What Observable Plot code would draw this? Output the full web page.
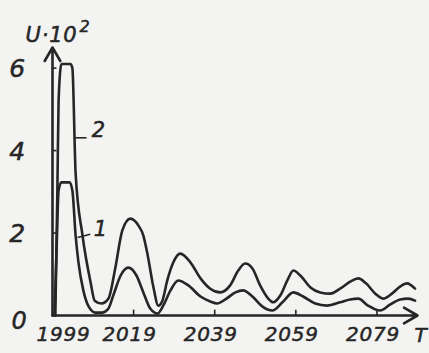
<!DOCTYPE html>
<html>
<head>
<meta charset="utf-8">
<script src="https://cdn.jsdelivr.net/npm/d3@7"></script>
<script src="https://cdn.jsdelivr.net/npm/@observablehq/plot@0.6"></script>
<style>
  html, body { margin: 0; padding: 0; background: #f3f3f1; }
  #chart { width: 429px; height: 353px; }
  #chart svg text { letter-spacing: 0.8px; }
</style>
</head>
<body>
<div id="chart"></div>
<script>
// Curve 2 (upper) : [T, U·10^2]
const curve2 = [
  [1999.7,0],[2000.2,3.0],[2000.5,5.2],[2001.2,6.1],[2003.4,6.1],[2003.9,6.0],[2004.7,3.45],
  [2006.4,1.94],[2008.4,0.8],[2009.4,0.36],[2011.1,0.29],[2012.8,0.41],[2014.5,1.16],
  [2016.2,2.06],[2018.2,2.35],[2020.2,2.18],[2021.4,1.94],[2022.4,1.5],[2023.9,0.68],
  [2025.1,0.24],[2026.1,0.36],[2027.3,0.85],[2028.8,1.29],[2030.5,1.5],[2033.0,1.29],
  [2035.5,0.9],[2037.9,0.65],[2040.4,0.56],[2042.8,0.73],[2044.8,1.09],[2046.5,1.26],
  [2048.3,1.14],[2050.2,0.73],[2052.2,0.41],[2053.4,0.32],[2055.2,0.49],[2056.9,0.85],
  [2058.4,1.09],[2060.1,0.97],[2062.6,0.68],[2065.0,0.56],[2067.5,0.53],[2069.9,0.65],
  [2072.4,0.82],[2074.4,0.9],[2076.3,0.78],[2078.6,0.53],[2080.5,0.41],[2082.7,0.53],
  [2084.7,0.7],[2086.4,0.78],[2088.4,0.65]
];
// Curve 1 (lower)
const curve1 = [
  [1999.5,0],[2000.0,1.58],[2000.5,3.03],[2001.2,3.23],[2003.2,3.23],[2003.9,3.03],
  [2004.7,1.94],[2005.4,1.29],[2006.6,0.61],[2007.9,0.22],[2009.6,0.07],[2011.3,0.07],
  [2012.8,0.17],[2014.0,0.49],[2015.8,0.97],[2017.7,1.16],[2019.7,0.97],[2021.4,0.56],
  [2023.1,0.17],[2024.9,0.05],[2026.3,0.24],[2028.1,0.61],[2030.0,0.85],[2032.5,0.73],
  [2035.5,0.46],[2037.9,0.34],[2039.6,0.29],[2041.9,0.41],[2044.1,0.56],[2046.0,0.61],
  [2048.3,0.46],[2050.7,0.22],[2053.2,0.12],[2055.7,0.32],[2058.4,0.56],[2060.8,0.46],
  [2063.8,0.29],[2066.7,0.24],[2069.9,0.32],[2072.4,0.39],[2074.4,0.41],[2076.8,0.24],
  [2079.8,0.12],[2082.3,0.27],[2084.7,0.39],[2086.7,0.41],[2088.4,0.36]
];
const xTicks = [1999, 2019, 2039, 2059, 2079];
const yTicks = [0, 2, 4, 6];
const xLabel = "T";
const yLabel = "U·10";
const yLabelSup = "2";
// curve labels: name, label position, leader start/end
const curveLabels = [
  {name: "2", t: 2010.4, v: 4.5, t1: 2004.5, t2: 2007.4, v1: 4.31, v2: 4.31},
  {name: "1", t: 2010.9, v: 2.1, t1: 2005.2, t2: 2008.3, v1: 1.89, v2: 1.97}
];

const ink = "#262626";
const font = "DejaVu Sans";
const pts2 = curve2.map(([t, v]) => ({t, v}));
const pts1 = curve1.map(([t, v]) => ({t, v}));
const txt = {fontStyle: "italic", fill: ink, stroke: ink, strokeWidth: 0.5};

const chart = Plot.plot({
  width: 429,
  height: 353,
  marginLeft: 52,
  marginRight: 12,
  marginTop: 47,
  marginBottom: 38,
  x: {domain: [1999, 2089], axis: null},
  y: {domain: [0, 6.5], axis: null},
  style: {background: "#f3f3f1", fontFamily: font, color: ink},
  marks: [
    // axes with arrows
    Plot.arrow([0], {x1: 1999, y1: 0, x2: 1999, y2: 6.5, stroke: ink, strokeWidth: 2.6, headLength: 9, bend: 0}),
    Plot.arrow([0], {x1: 1999, y1: 0, x2: 2089, y2: 0, stroke: ink, strokeWidth: 2.6, headLength: 9, bend: 0}),
    // ticks
    Plot.ruleX(xTicks.slice(1), {x: d => d, y1: 0, y2: 0.13, stroke: ink, strokeWidth: 1.6}),
    Plot.ruleY(yTicks.slice(1), {y: d => d, x1: 1999, x2: 2000.1, stroke: ink, strokeWidth: 1.6}),
    // curves
    Plot.line(pts2, {x: "t", y: "v", curve: "monotone-x", stroke: ink, strokeWidth: 2.6}),
    Plot.line(pts1, {x: "t", y: "v", curve: "monotone-x", stroke: ink, strokeWidth: 2.6}),
    // curve label leaders
    Plot.link(curveLabels, {x1: "t1", y1: "v1", x2: "t2", y2: "v2", stroke: ink, strokeWidth: 1.6}),
    Plot.text(curveLabels, {x: "t", y: "v", text: "name", fontSize: 21, ...txt}),
    // x tick labels
    Plot.text(xTicks.slice(0, 1), {x: d => d, y: 0, text: d => String(d), dx: 11, dy: 19, fontSize: 20, ...txt}),
    Plot.text(xTicks.slice(1), {x: d => d, y: 0, text: d => String(d), dx: -4, dy: 19, fontSize: 20, ...txt}),
    // y tick labels
    Plot.text(yTicks.slice(1), {x: 1999, y: d => d, text: d => String(d), dx: -35, dy: 1, fontSize: 25, ...txt}),
    Plot.text(yTicks.slice(0, 1), {x: 1999, y: d => d, text: d => String(d), dx: -33, dy: 6, fontSize: 24, ...txt}),
    // axis labels
    Plot.text([xLabel], {x: 2089, y: 0, text: d => d, dx: -3, dy: 20, textAnchor: "start", fontSize: 20, ...txt}),
    Plot.text([yLabel], {x: 1999, y: 6.5, text: d => d, dx: -27, dy: -12, textAnchor: "start", fontSize: 21, ...txt}),
    Plot.text([yLabelSup], {x: 1999, y: 6.5, text: d => d, dx: 27, dy: -21, textAnchor: "start", fontSize: 16, ...txt})
  ]
});
document.getElementById("chart").appendChild(chart);
</script>
</body>
</html>
